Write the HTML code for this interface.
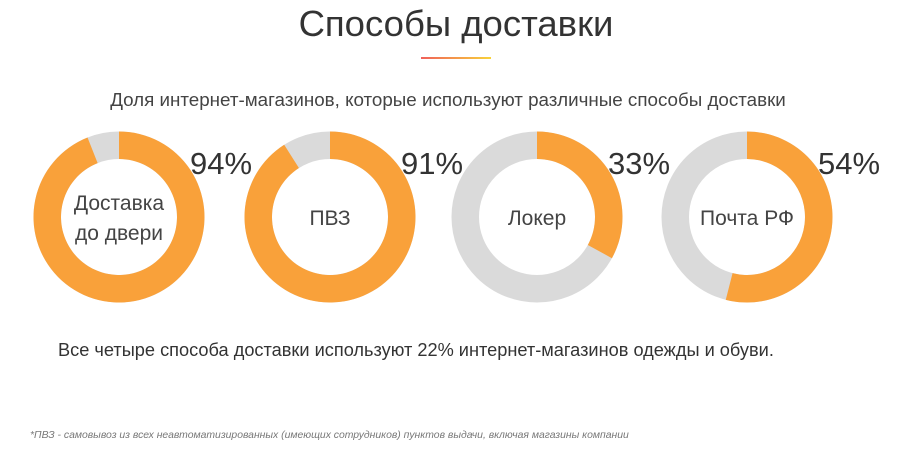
<!DOCTYPE html>
<html><head><meta charset="utf-8">
<style>
body{margin:0;width:900px;height:464px;background:#fff;font-family:"Liberation Sans",sans-serif;color:#3a3a3a;overflow:hidden;position:relative}
.t{position:absolute;white-space:nowrap}
</style></head><body>
<div class="t" style="left:0;width:912px;text-align:center;top:3px;font-size:36.5px;color:#333">Способы доставки</div>
<div style="position:absolute;left:421px;top:57px;width:70px;height:2px;background:linear-gradient(90deg,#f0605a,#f8d23a)"></div>
<div class="t" style="left:0;width:896px;text-align:center;top:89px;font-size:18.8px;color:#444">Доля интернет-магазинов, которые используют различные способы доставки</div>
<svg id="c" width="900" height="464" style="position:absolute;left:0;top:0"></svg>
<div class="t" style="left:58px;top:340px;font-size:18.2px;color:#333">Все четыре способа доставки используют 22% интернет-магазинов одежды и обуви.</div>
<div class="t" style="left:30px;top:430px;font-size:10.4px;font-style:italic;color:#777">*ПВЗ - самовывоз из всех неавтоматизированных (имеющих сотрудников) пунктов выдачи, включая магазины компании</div>
<script>
const categories=[["Доставка","до двери"],["ПВЗ"],["Локер"],["Почта РФ"]];
const values=[94,91,33,54];
const centersX=[119,330,537,747];
const cy=217,R=85.5,r=58;
const svg=document.getElementById('c');
const NS='http://www.w3.org/2000/svg';
function pt(rad,frac){const a=frac*2*Math.PI-Math.PI/2;return [rad*Math.cos(a),rad*Math.sin(a)];}
function arc(cx,f0,f1){
 const large=(f1-f0)>0.5?1:0;
 const [x0,y0]=pt(R,f0),[x1,y1]=pt(R,f1),[x2,y2]=pt(r,f1),[x3,y3]=pt(r,f0);
 return `M${cx+x0},${cy+y0}A${R},${R} 0 ${large} 1 ${cx+x1},${cy+y1}L${cx+x2},${cy+y2}A${r},${r} 0 ${large} 0 ${cx+x3},${cy+y3}Z`;
}
values.forEach((v,i)=>{
 const cx=centersX[i];
 const bg=document.createElementNS(NS,'circle');
 bg.setAttribute('cx',cx);bg.setAttribute('cy',cy);bg.setAttribute('r',(R+r)/2);
 bg.setAttribute('fill','none');bg.setAttribute('stroke','#dadada');bg.setAttribute('stroke-width',R-r);
 
 
 svg.appendChild(bg);
 const p=document.createElementNS(NS,'path');
 p.setAttribute('d',arc(cx,0,Math.min(v/100,0.9999)));
 p.setAttribute('fill','#f9a13a');
 
 
 svg.appendChild(p);
 const lbl=document.createElementNS(NS,'text');
 const lines=categories[i];
 lines.forEach((ln,j)=>{
  const ts=document.createElementNS(NS,'tspan');
  ts.setAttribute('x',cx);
  ts.setAttribute('y',cy+8+(j-(lines.length-1)/2)*30);
  ts.textContent=ln;lbl.appendChild(ts);
 });
 lbl.setAttribute('text-anchor','middle');lbl.setAttribute('font-size','21');lbl.setAttribute('fill','#444');
 lbl.setAttribute('font-family','Liberation Sans, sans-serif');
 
 
 svg.appendChild(lbl);
 const pc=document.createElementNS(NS,'text');
 pc.setAttribute('x',cx+71);pc.setAttribute('y',174);
 pc.setAttribute('font-size','31');pc.setAttribute('fill','#333');
 pc.setAttribute('font-family','Liberation Sans, sans-serif');
 pc.textContent=v+'%';
 
 
 svg.appendChild(pc);
});
</script>
</body></html>
